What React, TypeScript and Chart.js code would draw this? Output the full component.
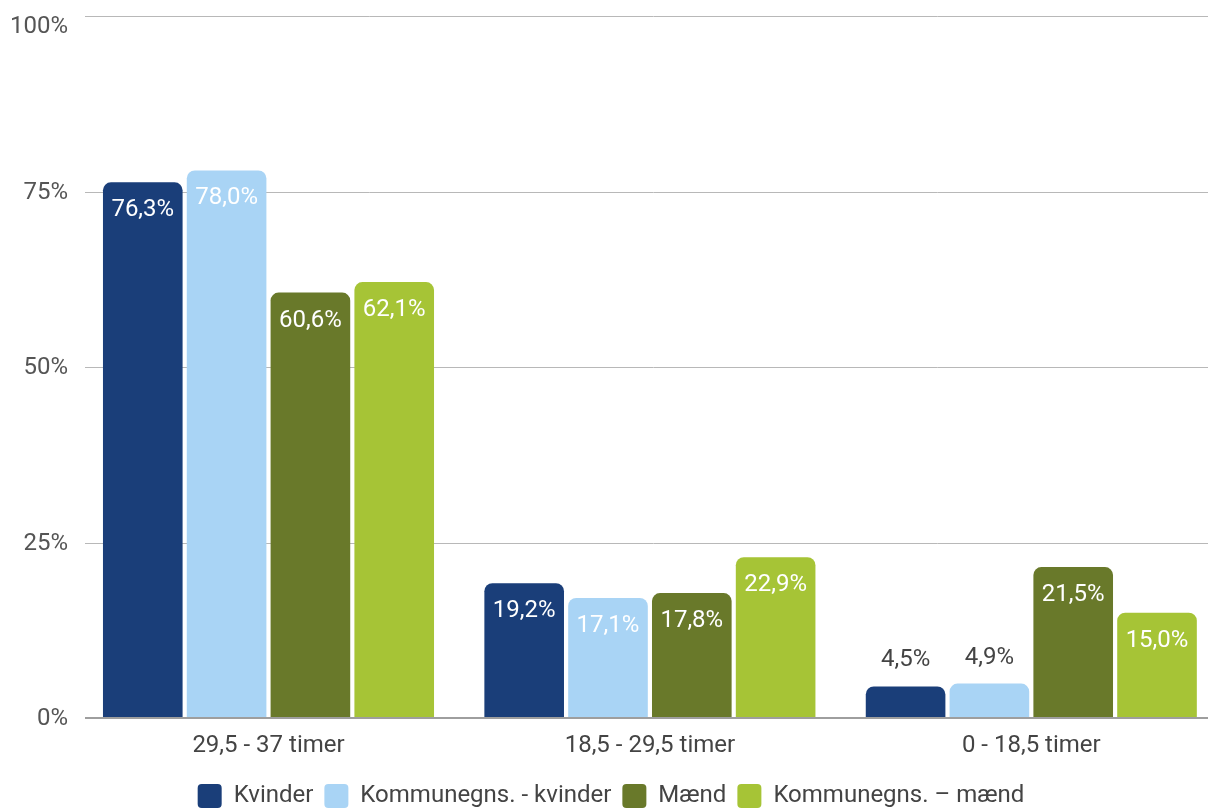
import React, { useEffect, useRef } from 'react';
import { Chart, registerables } from 'chart.js';

Chart.register(...registerables);

const categories = ['29,5 - 37 timer', '18,5 - 29,5 timer', '0 - 18,5 timer'];
const seriesNames = ['Kvinder', 'Kommunegns. - kvinder', 'Mænd', 'Kommunegns. – mænd'];
const kvinder = [76.3, 19.2, 4.5];
const kommuneKvinder = [78.0, 17.1, 4.9];
const maend = [60.6, 17.8, 21.5];
const kommuneMaend = [62.1, 22.9, 15.0];
const seriesColors = ['#1a3e79', '#a9d4f5', '#69792a', '#a6c436'];
const yTicks = [0, 25, 50, 75, 100];
const yTickLabels = ['0%', '25%', '50%', '75%', '100%'];

const FONT = 'Roboto';

const gridPlugin = {
  id: 'customGrid',
  beforeDatasetsDraw(chart: any) {
    const { ctx } = chart;
    const y = chart.scales.y;
    ctx.save();
    ctx.strokeStyle = '#b8b8b8';
    ctx.lineWidth = 1;
    yTicks.forEach((v) => {
      if (v === 0) return;
      const py = Math.round(y.getPixelForValue(v)) + 0.5;
      ctx.beginPath();
      ctx.moveTo(85, py);
      ctx.lineTo(chart.width, py);
      ctx.stroke();
    });
    ctx.restore();
  },
  afterDatasetsDraw(chart: any) {
    const { ctx } = chart;
    const y = chart.scales.y;
    ctx.save();
    const p0 = y.getPixelForValue(0);
    ctx.strokeStyle = '#9e9e9e';
    ctx.lineWidth = 2;
    ctx.beginPath();
    ctx.moveTo(85, p0);
    ctx.lineTo(chart.width, p0);
    ctx.stroke();

    ctx.font = `24px ${FONT}`;
    ctx.fillStyle = '#555555';
    ctx.textAlign = 'right';
    ctx.textBaseline = 'middle';
    yTicks.forEach((v, i) => {
      const py = Math.max(y.getPixelForValue(v), 26);
      ctx.fillText(yTickLabels[i], 68, py + 1);
    });

    ctx.textAlign = 'center';
    chart.data.datasets.forEach((ds: any, di: number) => {
      const meta = chart.getDatasetMeta(di);
      meta.data.forEach((bar: any, i: number) => {
        const v = ds.data[i];
        const txt = v.toFixed(1).replace('.', ',') + '%';
        const h = bar.base - bar.y;
        if (h > 50) {
          ctx.fillStyle = '#ffffff';
          ctx.fillText(txt, bar.x, bar.y + 28);
        } else {
          ctx.fillStyle = '#444444';
          ctx.fillText(txt, bar.x, bar.y - 26);
        }
      });
    });
    ctx.restore();
  },
};

export default function App() {
  const ref = useRef<HTMLCanvasElement | null>(null);

  useEffect(() => {
    document.body.style.margin = '0';
    Chart.defaults.font.family = FONT;
    const seriesData = [kvinder, kommuneKvinder, maend, kommuneMaend];
    const chart = new Chart(ref.current as HTMLCanvasElement, {
      type: 'bar',
      data: {
        labels: categories,
        datasets: seriesNames.map((name, i) => ({
          label: name,
          data: seriesData[i],
          backgroundColor: seriesColors[i],
          borderWidth: 0,
          borderRadius: 8,
          borderSkipped: 'start',
          categoryPercentage: 0.879,
          barPercentage: 0.95,
        })),
      },
      options: {
        animation: false,
        responsive: true,
        maintainAspectRatio: false,
        layout: { padding: { top: 16, left: 0, right: 0, bottom: 0 } },
        plugins: {
          tooltip: { enabled: false },
          legend: {
            position: 'bottom',
            labels: {
              boxWidth: 24,
              boxHeight: 24,
              padding: 11,
              color: '#444444',
              font: { size: 24, family: FONT },
              useBorderRadius: true,
              borderRadius: 4,
            },
          },
        },
        scales: {
          x: {
            grid: { display: false, drawTicks: false },
            border: { display: false },
            ticks: {
              color: '#444444',
              font: { size: 24, family: FONT },
              padding: 14,
            },
            afterFit(scale: any) {
              scale.height = 55;
            },
          },
          y: {
            min: 0,
            max: 100,
            grid: { display: false, drawTicks: false },
            border: { display: false },
            ticks: { display: false, stepSize: 25 },
            afterFit(scale: any) {
              scale.width = 77.8;
            },
          },
        },
      },
      plugins: [gridPlugin],
    } as any);
    return () => chart.destroy();
  }, []);

  return (
    <div style={{ position: 'fixed', left: 0, top: 0, width: 1208, height: 810, overflow: 'hidden', background: '#fff' }}>
      <div style={{ position: 'relative', width: 1222, height: 818 }}>
        <canvas ref={ref} />
      </div>
    </div>
  );
}
